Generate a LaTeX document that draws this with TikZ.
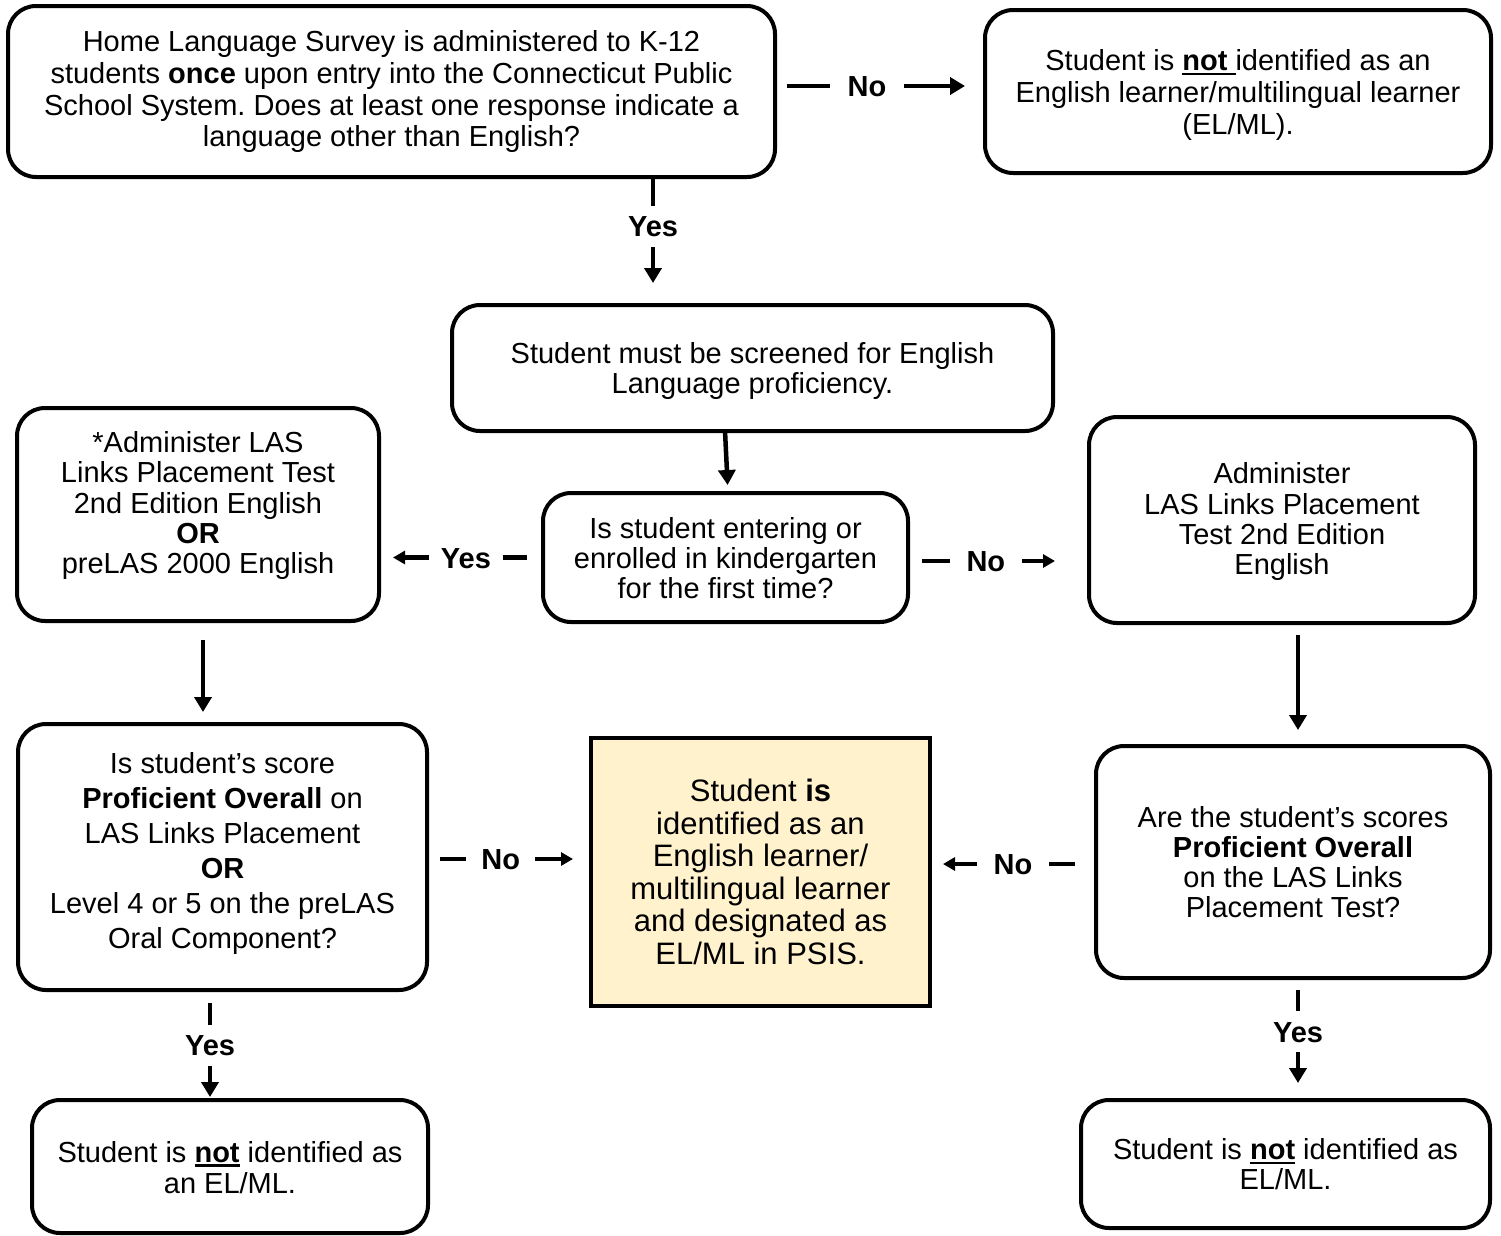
\documentclass[tikz,border=0pt]{standalone}
\usepackage{fontspec}
\setmainfont{Liberation Sans}
\usetikzlibrary{arrows.meta,calc}
\definecolor{ylw}{HTML}{FFF2CC}
\frenchspacing
\newcommand\tx[4]{\raisebox{#1}[\height][\depth]{\fontsize{#2}{#3}\selectfont\frenchspacing\begin{tabular}{@{}c@{}}#4\end{tabular}}}
\newcommand\ulnot[1]{\setbox0\hbox{\textbf{#1}}\rlap{\rule[-5pt]{\wd0}{2.6pt}}\box0\relax}
\tikzset{
  box/.style={draw, line width=4pt, rounded corners=28pt, inner sep=0pt, outer sep=0pt, anchor=center},
  conn/.style={draw, line width=4.5pt},
  bigarr/.style={conn, -{Triangle[length=15pt,width=17pt]}},
  smallarr/.style={draw, line width=4.5pt, -{Triangle[length=12pt,width=13pt]}},
  lbl/.style={font=\fontsize{29}{31}\selectfont\bfseries, fill=white, text height=21pt, text depth=0pt, inner xsep=18pt, inner ysep=10pt},
}
\begin{document}
\begin{tikzpicture}[x=1pt,y=-1pt]
\useasboundingbox (0,0) rectangle (1501,1235);
% boxes
\node[box, minimum width=767pt, minimum height=171pt] (top) at (391.5,91.5)
  {\tx{-1.5pt}{29}{31.7}{Home Language Survey is administered to K-12\\ students \textbf{once} upon entry into the Connecticut Public\\ School System. Does at least one response indicate a\\ language other than English?}};
\node[box, minimum width=506pt, minimum height=163pt] (topright) at (1238,91.5)
  {\tx{-4.5pt}{29}{32}{Student is \ulnot{not }identified as an\\ English learner/multilingual learner\\ (EL/ML).}};
\node[box, minimum width=601pt, minimum height=126pt] (screen) at (752.5,368)
  {\tx{-4.5pt}{29}{30}{Student must be screened for English\\ Language proficiency.}};
\node[box, minimum width=365pt, minimum height=129pt] (kinder) at (725.5,557.5)
  {\tx{-4.5pt}{29}{30}{Is student entering or\\ enrolled in kindergarten\\ for the first time?}};
\node[box, minimum width=362pt, minimum height=213pt] (leftadmin) at (198,514.5)
  {\tx{7.5pt}{29}{30.2}{*Administer LAS\\ Links Placement Test\\ 2nd Edition English\\ \textbf{OR}\\ preLAS 2000 English}};
\node[box, minimum width=386pt, minimum height=206pt] (rightadmin) at (1282,520)
  {\tx{-3pt}{29}{30}{Administer\\ LAS Links Placement\\ Test 2nd Edition\\ English}};
\node[box, minimum width=409pt, minimum height=266pt] (leftq) at (222.5,857)
  {\tx{3.5pt}{29}{35}{Is student’s score\\ \textbf{Proficient Overall} on\\ LAS Links Placement\\ \textbf{OR}\\ Level 4 or 5 on the preLAS\\ Oral Component?}};
\node[box, rounded corners=0pt, fill=ylw, minimum width=339pt, minimum height=268pt] (center) at (760.5,872)
  {\tx{-4.5pt}{31}{32.6}{Student \textbf{is}\\ identified as an\\ English learner/\\ multilingual learner\\ and designated as\\ EL/ML in PSIS.}};
\node[box, minimum width=394pt, minimum height=232pt] (rightq) at (1293,862)
  {\tx{-4.5pt}{29}{30}{Are the student’s scores\\ \textbf{Proficient Overall}\\ on the LAS Links\\ Placement Test?}};
\node[box, minimum width=396pt, minimum height=133pt] (bottomleft) at (230,1166.5)
  {\tx{-5pt}{29}{31.5}{Student is \ulnot{not} identified as\\ an EL/ML.}};
\node[box, minimum width=409pt, minimum height=128pt] (bottomright) at (1285.5,1164)
  {\tx{-4pt}{29}{29.5}{Student is \ulnot{not} identified as\\ EL/ML.}};
% connectors
\draw[bigarr, shorten <=12pt, shorten >=20pt] ([yshift=5.5pt]top.east) -- node[lbl, pos=0.438] (lno1) {No} ([yshift=5.5pt]topright.west);
\draw[bigarr, shorten >=22pt] ([xshift=261.5pt]top.south) -- node[lbl, inner xsep=4pt, pos=0.383] (lyes1) {Yes} ([xshift=-99.5pt]screen.north);
\draw[bigarr, shorten >=8pt] ([xshift=-27.5pt]screen.south) -- ([xshift=2.5pt]kinder.north);
\draw[smallarr, shorten <=16pt, shorten >=14pt] (kinder.west) -- node[lbl, inner xsep=12pt, pos=0.47] (lyes2) {Yes} (leftadmin.east |- kinder.west);
\draw[smallarr, shorten <=14pt, shorten >=34pt] ([yshift=-3.5pt]kinder.east) -- node[lbl, inner xsep=17pt, pos=0.43] (lno2) {No} ([yshift=-3.5pt]kinder.east -| rightadmin.west);
\draw[bigarr, shorten <=19pt, shorten >=12pt] ([xshift=5pt]leftadmin.south) -- ([xshift=-19.5pt]leftq.north);
\draw[bigarr, shorten <=12pt, shorten >=16pt] ([xshift=16pt]rightadmin.south) -- ([xshift=5pt]rightq.north);
\draw[smallarr, shorten <=13pt, shorten >=18pt] ([yshift=-2pt]leftq.east) -- node[lbl, inner xsep=15pt, pos=0.45] (lno3) {No} ([yshift=-2pt]leftq.east -| center.west);
\draw[smallarr, shorten <=21pt, shorten >=13pt] ([yshift=-2pt]rightq.west) -- node[lbl, inner xsep=17pt, pos=0.5] (lno4) {No} ([yshift=-2pt]rightq.west -| center.east);
\draw[bigarr, shorten <=13pt, shorten >=3pt] ([xshift=-12.5pt]leftq.south) -- node[lbl, inner xsep=4pt, pos=0.5] (lyes3) {Yes} ([xshift=-20pt]bottomleft.north);
\draw[bigarr, shorten <=12pt, shorten >=17pt] ([xshift=5pt]rightq.south) -- node[lbl, inner xsep=4pt, pos=0.44] (lyes4) {Yes} ([xshift=12.5pt]bottomright.north);
\end{tikzpicture}
\end{document}
